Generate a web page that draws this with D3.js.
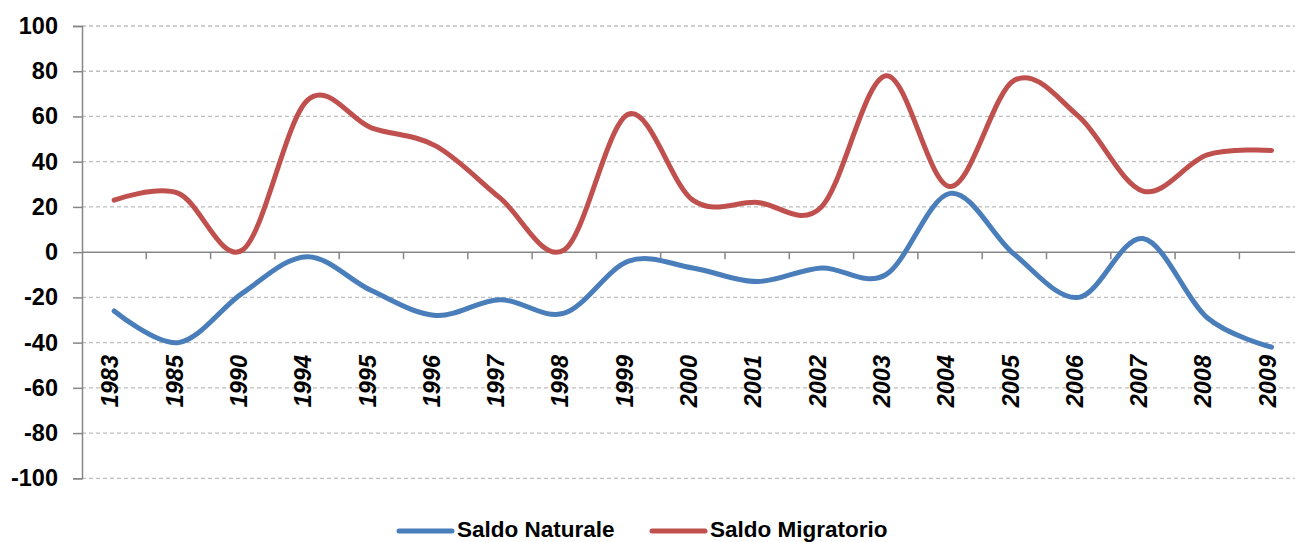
<!DOCTYPE html>
<html>
<head>
<meta charset="utf-8">
<script src="https://cdn.jsdelivr.net/npm/d3@7"></script>
<style>
  html, body { margin: 0; padding: 0; background: #fff; }
  svg { display: block; }
  text { font-family: "Liberation Sans", Arial, sans-serif; font-weight: bold; fill: #000; }
</style>
</head>
<body>
<svg id="chart" width="1295" height="542"></svg>
<script>
const categories = ["1983","1985","1990","1994","1995","1996","1997","1998","1999","2000","2001","2002","2003","2004","2005","2006","2007","2008","2009"];
const saldoNaturale = [-26, -40, -18, -2, -17, -28, -21, -27, -4, -7, -13, -7, -10, 26, -1, -20, 6, -29, -42];
const saldoMigratorio = [23, 26, 1, 67, 55, 47, 24, 1, 61, 23, 22, 20, 78, 29, 76, 60, 27, 43, 45];
const yTicks = [-100, -80, -60, -40, -20, 0, 20, 40, 60, 80, 100];
const seriesNames = ["Saldo Naturale", "Saldo Migratorio"];
const seriesColors = ["#4a7ebb", "#c0504d"];

const svg = d3.select("#chart");
const left = 82, bandW = 64.3;
const x = d3.scaleBand().domain(categories).range([left, left + bandW * categories.length]).paddingInner(0).paddingOuter(0);
const y = d3.scaleLinear().domain([-100, 100]).range([478.3, 26]);
const right = 1295;

// gridlines
svg.append("g").selectAll("line").data(yTicks.filter(d => d !== 0)).join("line")
  .attr("x1", left).attr("x2", right)
  .attr("y1", d => y(d)).attr("y2", d => y(d))
  .attr("stroke", "#bfbfbf").attr("stroke-width", 1.3).attr("stroke-dasharray", "4,3");

// y axis
const yAxis = svg.append("g").attr("transform", `translate(${left},0)`)
  .call(d3.axisLeft(y).tickValues(yTicks).tickSize(9).tickPadding(15).tickFormat(d => String(d)));
yAxis.select(".domain").attr("stroke", "#868686").attr("stroke-width", 1.5);
yAxis.selectAll(".tick line").attr("stroke", "#868686").attr("stroke-width", 1.5);
yAxis.selectAll(".tick text").attr("font-size", 23.5).attr("font-family", "Liberation Sans, Arial, sans-serif").attr("font-weight", "bold").attr("fill", "#000");

// x axis at zero
const y0 = y(0);
svg.append("line").attr("x1", left).attr("x2", right).attr("y1", y0).attr("y2", y0)
  .attr("stroke", "#868686").attr("stroke-width", 1.5);
const boundaries = categories.map(c => x(c) + x.bandwidth());
svg.append("g").selectAll("line").data(boundaries).join("line")
  .attr("x1", d => d).attr("x2", d => d).attr("y1", y0).attr("y2", y0 + 7)
  .attr("stroke", "#868686").attr("stroke-width", 1.5);

// x labels
svg.append("g").selectAll("text").data(categories).join("text")
  .attr("transform", d => `translate(${x(d) + x.bandwidth() / 2 - 4},355) rotate(-90)`)
  .attr("text-anchor", "end").attr("dy", "0.35em")
  .attr("font-size", 23.5).attr("font-style", "italic")
  .text(d => d);

// lines
const series = [saldoNaturale, saldoMigratorio];
const line = d3.line()
  .x((d, i) => x(categories[i]) + x.bandwidth() / 2)
  .y(d => y(d))
  .curve(d3.curveCardinal.tension(0));
series.forEach((s, k) => {
  svg.append("path").datum(s).attr("d", line)
    .attr("fill", "none").attr("stroke", seriesColors[k]).attr("stroke-width", 5)
    .attr("stroke-linecap", "round").attr("stroke-linejoin", "round");
});

// legend
const legendX = [399, 652];
const legend = svg.append("g");
seriesNames.forEach((n, k) => {
  legend.append("line").attr("x1", legendX[k]).attr("x2", legendX[k] + 53)
    .attr("y1", 531).attr("y2", 531)
    .attr("stroke", seriesColors[k]).attr("stroke-width", 5).attr("stroke-linecap", "round");
  legend.append("text").attr("x", legendX[k] + 58).attr("y", 537)
    .attr("font-size", 22.5).text(n);
});
</script>
</body>
</html>
